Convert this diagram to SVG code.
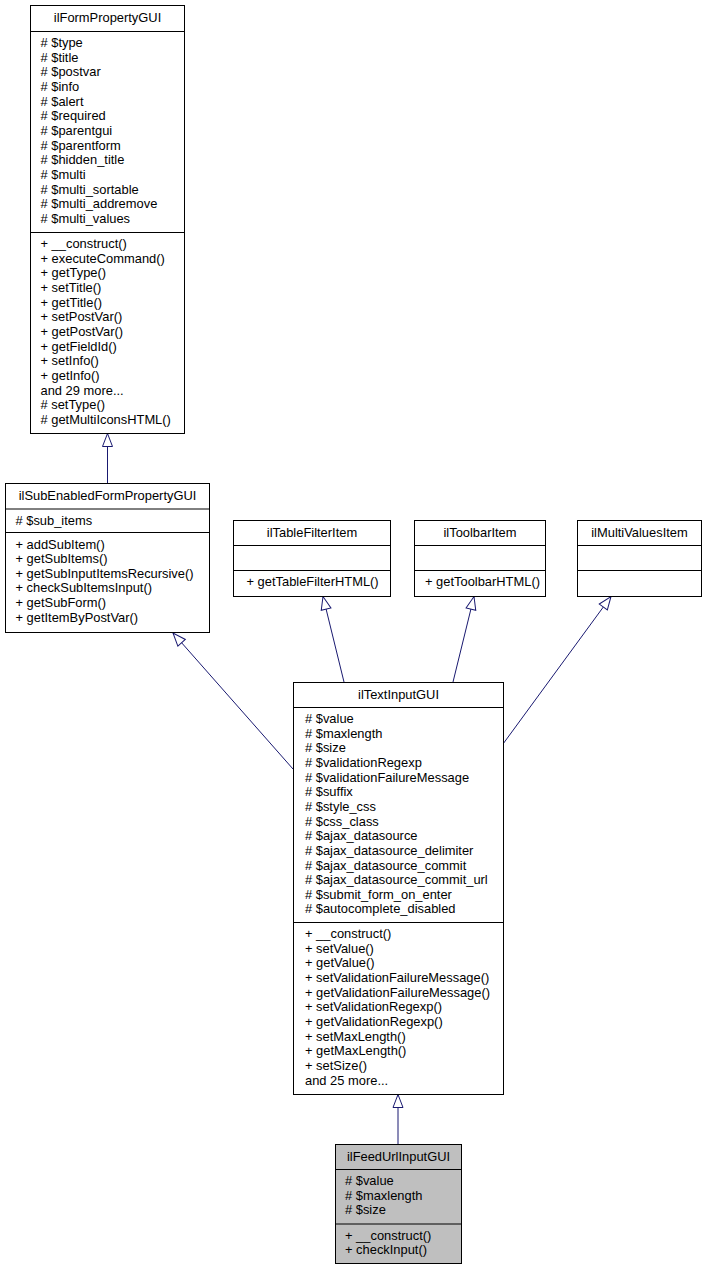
<svg xmlns="http://www.w3.org/2000/svg" width="706" height="1271" viewBox="0 0 706 1271">
<style>
.bg{fill:#fff}
.box{fill:#fff;stroke:#000;stroke-width:1}
.hl{fill:#bfbfbf;stroke:#000;stroke-width:1}
.sep{stroke:#000;stroke-width:1;fill:none}
.t{font-family:"Liberation Sans",Arial,Helvetica,sans-serif;font-size:12.9px;fill:#000}
.c{text-anchor:middle}
.edge{stroke:#191970;stroke-width:1;fill:none;marker-end:url(#inh)}
</style>
<defs>
<marker id="inh" markerUnits="userSpaceOnUse" markerWidth="16" markerHeight="12" refX="13" refY="5" orient="auto" overflow="visible">
<path d="M0,0 L13,5 L0,10 Z" fill="#fff" stroke="#191970" stroke-width="1"/>
</marker>
</defs>
<rect class="bg" x="0" y="0" width="706" height="1271"/>

<g id="connectors">
<line class="edge" x1="107.5" y1="483.5" x2="107.5" y2="433.5"/>
<line class="edge" x1="293" y1="769" x2="173" y2="633"/>
<line class="edge" x1="344" y1="682" x2="323" y2="596.5"/>
<line class="edge" x1="453" y1="682" x2="474" y2="596.5"/>
<line class="edge" x1="503" y1="744" x2="611" y2="596.5"/>
<line class="edge" x1="398" y1="1144.5" x2="398" y2="1094.5"/>
</g>

<g id="ilFormPropertyGUI">
<rect class="box" x="30.5" y="5.5" width="154" height="428"/>
<line class="sep" x1="30.5" y1="31.5" x2="184.5" y2="31.5"/>
<line class="sep" x1="30.5" y1="232.5" x2="184.5" y2="232.5"/>
<text class="t c" x="107.5" y="22">ilFormPropertyGUI</text>
<text class="t" x="40.5" y="47">
<tspan x="40.5" dy="0"># $type</tspan>
<tspan x="40.5" dy="14.65"># $title</tspan>
<tspan x="40.5" dy="14.65"># $postvar</tspan>
<tspan x="40.5" dy="14.65"># $info</tspan>
<tspan x="40.5" dy="14.65"># $alert</tspan>
<tspan x="40.5" dy="14.65"># $required</tspan>
<tspan x="40.5" dy="14.65"># $parentgui</tspan>
<tspan x="40.5" dy="14.65"># $parentform</tspan>
<tspan x="40.5" dy="14.65"># $hidden_title</tspan>
<tspan x="40.5" dy="14.65"># $multi</tspan>
<tspan x="40.5" dy="14.65"># $multi_sortable</tspan>
<tspan x="40.5" dy="14.65"># $multi_addremove</tspan>
<tspan x="40.5" dy="14.65"># $multi_values</tspan>
</text>
<text class="t" x="40.5" y="248">
<tspan x="40.5" dy="0">+ __construct()</tspan>
<tspan x="40.5" dy="14.65">+ executeCommand()</tspan>
<tspan x="40.5" dy="14.65">+ getType()</tspan>
<tspan x="40.5" dy="14.65">+ setTitle()</tspan>
<tspan x="40.5" dy="14.65">+ getTitle()</tspan>
<tspan x="40.5" dy="14.65">+ setPostVar()</tspan>
<tspan x="40.5" dy="14.65">+ getPostVar()</tspan>
<tspan x="40.5" dy="14.65">+ getFieldId()</tspan>
<tspan x="40.5" dy="14.65">+ setInfo()</tspan>
<tspan x="40.5" dy="14.65">+ getInfo()</tspan>
<tspan x="40.5" dy="14.65">and 29 more...</tspan>
<tspan x="40.5" dy="14.65"># setType()</tspan>
<tspan x="40.5" dy="14.65"># getMultiIconsHTML()</tspan>
</text>
</g>

<g id="ilSubEnabledFormPropertyGUI">
<rect class="box" x="5.5" y="483.5" width="204" height="149"/>
<line class="sep" x1="5.5" y1="509" x2="209.5" y2="509"/>
<line class="sep" x1="5.5" y1="532.5" x2="209.5" y2="532.5"/>
<text class="t c" x="107.5" y="500">ilSubEnabledFormPropertyGUI</text>
<text class="t" x="15.5" y="524.5"># $sub_items</text>
<text class="t" x="15.5" y="548.5">
<tspan x="15.5" dy="0">+ addSubItem()</tspan>
<tspan x="15.5" dy="14.65">+ getSubItems()</tspan>
<tspan x="15.5" dy="14.65">+ getSubInputItemsRecursive()</tspan>
<tspan x="15.5" dy="14.65">+ checkSubItemsInput()</tspan>
<tspan x="15.5" dy="14.65">+ getSubForm()</tspan>
<tspan x="15.5" dy="14.65">+ getItemByPostVar()</tspan>
</text>
</g>

<g id="ilTableFilterItem">
<rect class="box" x="233.5" y="520.5" width="157" height="76"/>
<line class="sep" x1="233.5" y1="545.5" x2="390.5" y2="545.5"/>
<line class="sep" x1="233.5" y1="570.5" x2="390.5" y2="570.5"/>
<text class="t c" x="312" y="536.5">ilTableFilterItem</text>
<text class="t" x="246.5" y="586">+ getTableFilterHTML()</text>
</g>

<g id="ilToolbarItem">
<rect class="box" x="414.5" y="520.5" width="131" height="76"/>
<line class="sep" x1="414.5" y1="545.5" x2="545.5" y2="545.5"/>
<line class="sep" x1="414.5" y1="570.5" x2="545.5" y2="570.5"/>
<text class="t c" x="480" y="536.5">ilToolbarItem</text>
<text class="t" x="425" y="586">+ getToolbarHTML()</text>
</g>

<g id="ilMultiValuesItem">
<rect class="box" x="577.5" y="520.5" width="124" height="76"/>
<line class="sep" x1="577.5" y1="545.5" x2="701.5" y2="545.5"/>
<line class="sep" x1="577.5" y1="570.5" x2="701.5" y2="570.5"/>
<text class="t c" x="639.5" y="536.5">ilMultiValuesItem</text>
</g>

<g id="ilTextInputGUI">
<rect class="box" x="293.5" y="682.5" width="210" height="412"/>
<line class="sep" x1="293.5" y1="707.5" x2="503.5" y2="707.5"/>
<line class="sep" x1="293.5" y1="922.5" x2="503.5" y2="922.5"/>
<text class="t c" x="398.5" y="698.5">ilTextInputGUI</text>
<text class="t" x="305" y="723">
<tspan x="305" dy="0"># $value</tspan>
<tspan x="305" dy="14.65"># $maxlength</tspan>
<tspan x="305" dy="14.65"># $size</tspan>
<tspan x="305" dy="14.65"># $validationRegexp</tspan>
<tspan x="305" dy="14.65"># $validationFailureMessage</tspan>
<tspan x="305" dy="14.65"># $suffix</tspan>
<tspan x="305" dy="14.65"># $style_css</tspan>
<tspan x="305" dy="14.65"># $css_class</tspan>
<tspan x="305" dy="14.65"># $ajax_datasource</tspan>
<tspan x="305" dy="14.65"># $ajax_datasource_delimiter</tspan>
<tspan x="305" dy="14.65"># $ajax_datasource_commit</tspan>
<tspan x="305" dy="14.65"># $ajax_datasource_commit_url</tspan>
<tspan x="305" dy="14.65"># $submit_form_on_enter</tspan>
<tspan x="305" dy="14.65"># $autocomplete_disabled</tspan>
</text>
<text class="t" x="305" y="938">
<tspan x="305" dy="0">+ __construct()</tspan>
<tspan x="305" dy="14.65">+ setValue()</tspan>
<tspan x="305" dy="14.65">+ getValue()</tspan>
<tspan x="305" dy="14.65">+ setValidationFailureMessage()</tspan>
<tspan x="305" dy="14.65">+ getValidationFailureMessage()</tspan>
<tspan x="305" dy="14.65">+ setValidationRegexp()</tspan>
<tspan x="305" dy="14.65">+ getValidationRegexp()</tspan>
<tspan x="305" dy="14.65">+ setMaxLength()</tspan>
<tspan x="305" dy="14.65">+ getMaxLength()</tspan>
<tspan x="305" dy="14.65">+ setSize()</tspan>
<tspan x="305" dy="14.65">and 25 more...</tspan>
</text>
</g>

<g id="ilFeedUrlInputGUI">
<rect class="hl" x="335.5" y="1144.5" width="126" height="119"/>
<line class="sep" x1="335.5" y1="1169.5" x2="461.5" y2="1169.5"/>
<line class="sep" x1="335.5" y1="1224" x2="461.5" y2="1224"/>
<text class="t c" x="398.5" y="1160.5">ilFeedUrlInputGUI</text>
<text class="t" x="345" y="1185">
<tspan x="345" dy="0"># $value</tspan>
<tspan x="345" dy="14.65"># $maxlength</tspan>
<tspan x="345" dy="14.65"># $size</tspan>
</text>
<text class="t" x="345" y="1239.5">
<tspan x="345" dy="0">+ __construct()</tspan>
<tspan x="345" dy="14.65">+ checkInput()</tspan>
</text>
</g>
</svg>
